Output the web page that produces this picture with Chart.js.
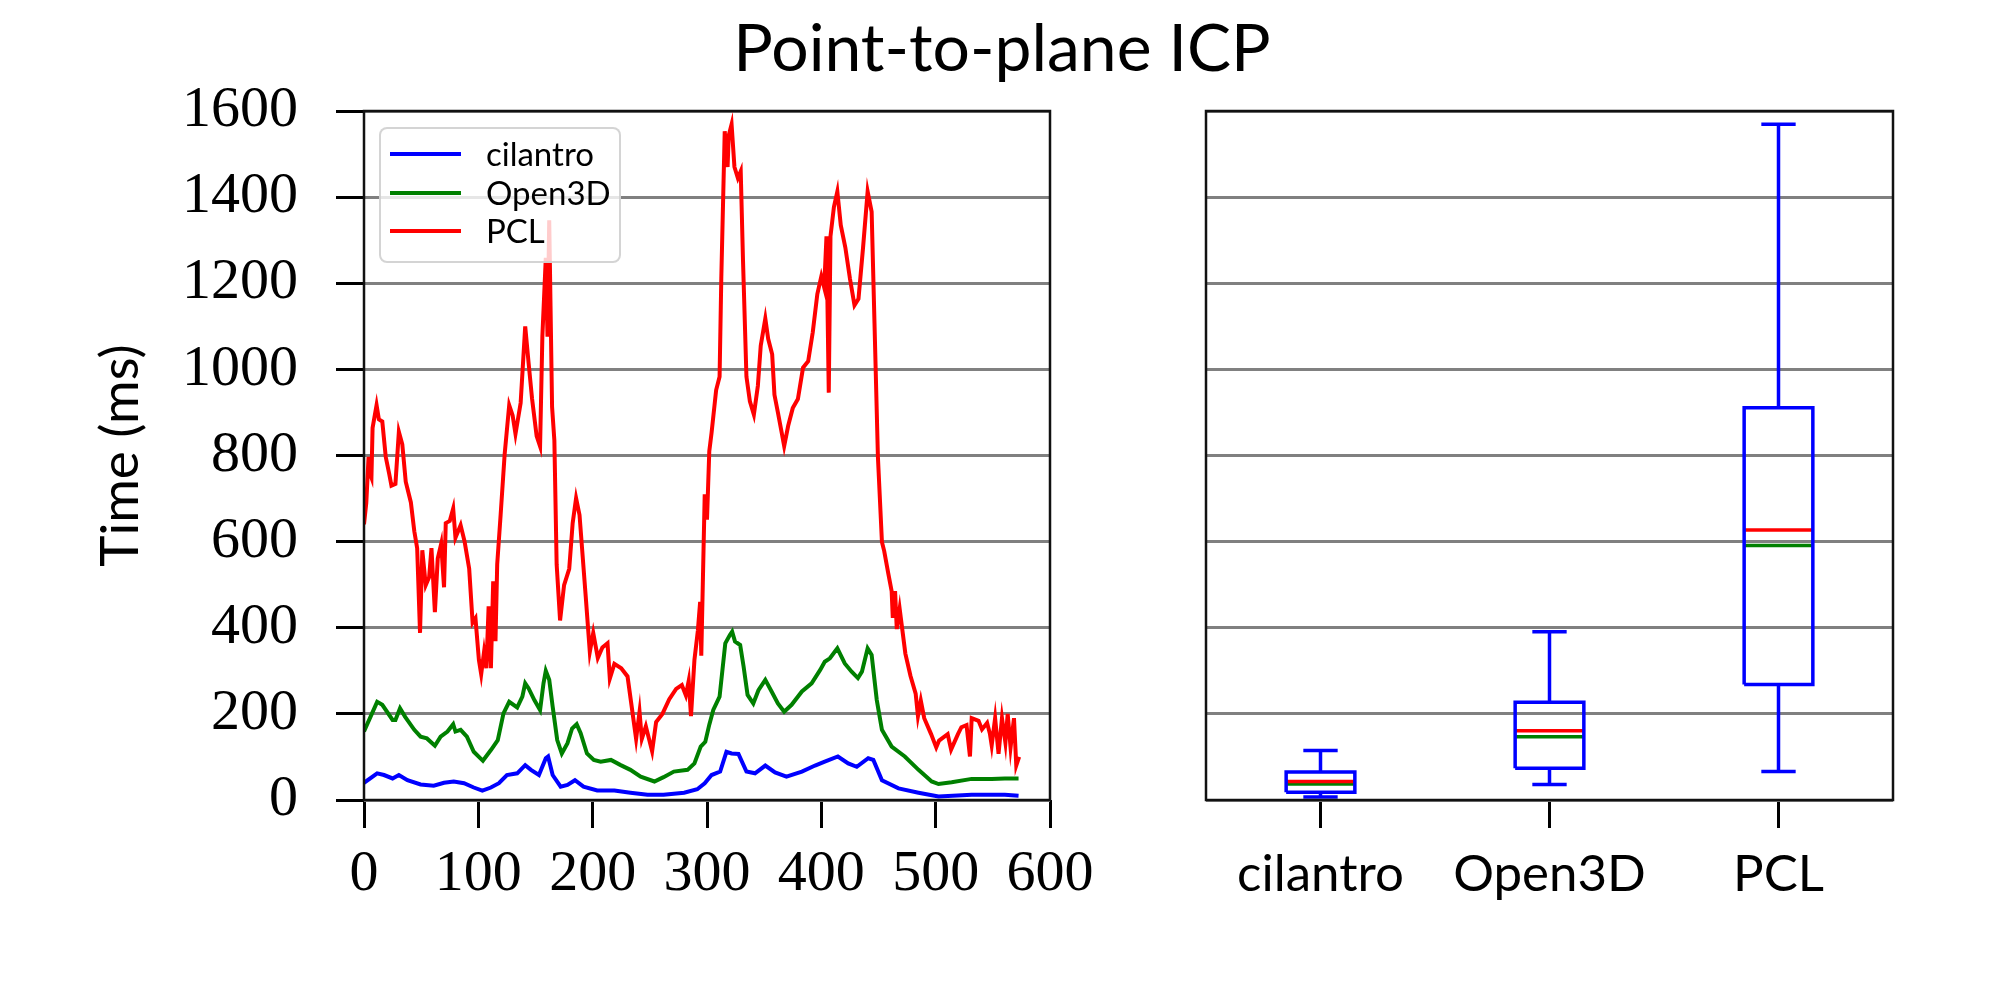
<!DOCTYPE html>
<html><head><meta charset="utf-8">
<script src="https://cdn.jsdelivr.net/npm/chart.js@4.4.1/dist/chart.umd.min.js"></script>
<style>
html,body{margin:0;padding:0;background:#fff;}
#wrap{position:relative;width:2004px;height:1002px;overflow:hidden;background:#fff;}
canvas{position:absolute;left:0;top:0;}
#title{position:absolute;left:0;top:13px;width:2004px;text-align:center;font-family:Lato,sans-serif;font-size:66px;line-height:66px;color:#000;white-space:nowrap;}
#legend{position:absolute;left:379px;top:127px;width:242px;height:136px;box-sizing:border-box;border:2px solid rgba(204,204,204,0.85);border-radius:8px;background:rgba(255,255,255,0.8);}
.sw{position:absolute;left:9px;width:71px;height:4px;}
.lt{position:absolute;left:105px;font-family:Lato,sans-serif;font-size:33px;line-height:33px;color:#000;white-space:nowrap;}
</style></head>
<body>
<div id="wrap">
<canvas id="c1" width="2004" height="1002"></canvas>
<canvas id="c2" width="2004" height="1002"></canvas>
<div id="title">Point-to-plane ICP</div>
<div id="legend"></div>
</div>
<script>
// ---- data ----
const seriesNames = ['cilantro', 'Open3D', 'PCL'];
const seriesColors = ['#0000ff', '#008000', '#ff0000'];

const cilFrame = [0,11.5,17.5,25,30.5,38,49.5,61,70,78.5,87.5,96,103.5,111,118,125,134,141,146,153,159,161,165,172,178,184.5,192,204,219,233,248,262,280,291.5,298,304,311.5,317,321.5,327.5,334.5,342,351,359.5,369.5,383,394.5,403,414.5,423.5,431,441,445.5,453,467.5,485,502.5,531.5,560.5,572.5];
const cilMs = [40,62,58,50,58,46,36,33,40,43,39,29,22,29,39,58,62,81,70,58,97,101,58,31,35,46,31,22,22,17,12,12,17,25,39,58,66,112,108,107,66,62,80,64,54,66,80,89,101,85,77,97,93,46,27,17,8,12,12,10];

const o3dFrame = [0,11.5,16,25,27.5,31.5,36,44,49.5,55,62,67,73,78,80,84.5,90,96,104,111,117,122,127,134,138.5,141,144,149,154,157,159,162,165,169,173,178,182,186,189.5,195,201,207,216,224.5,233,242,254,262,271,283,289,294.5,298.5,302,305.5,311,316,320,322,324.5,329,332,335.5,340.5,345,351,356.5,362,367.5,374,383,391.5,399,403,407.5,414,420.5,426.5,432,435.5,440.5,444,448.5,453,461.5,473,485,496.5,502.5,514,531.5,549,560.5,572.5];
const o3dMs = [159,228,221,186,186,213,193,163,147,143,126,147,159,176,159,163,147,112,91,116,139,201,228,215,240,271,259,232,209,271,300,279,217,139,108,132,166,176,155,108,93,89,93,81,70,54,43,53,66,70,85,124,135,175,209,240,364,383,391,368,360,310,244,224,255,279,252,224,205,221,252,271,302,321,329,352,317,298,283,298,352,337,232,163,124,101,70,43,37,41,49,49,50,50];

const pclFrame = [0,2,4,5,6.5,7.5,11,13,16,19,22,24,27.5,30.5,33.5,36.5,41,44,46.5,49,51,54,57,59,62,64.5,67.5,70,71.5,75,78,80,84.5,88,92,95,97.5,100.5,102.5,105,107,109,111,113,115,116.5,119.5,123,127,130,132.5,137,141,144,147,151,154,156,159,160.5,162,164.5,166.5,168.5,171.5,175,179.5,182.5,185.5,188.5,194,197.5,200.5,204.5,208.5,213,215,219,225,230.5,233.5,238,241,243,246.5,252,255.5,261,267,273,278,281.5,284,286,289,292,294,295,298,300,302,304,308,311,312.5,315.5,318,319,321.5,324,327,329.5,331.5,334.5,337.5,341,344.5,347,351,353.5,357,359,362,365,367.5,371,375,379.5,384,388.5,392.5,396.5,400,402.5,404.5,406.5,408,411,414,417,421,425,429,432.5,436.5,440.5,444,446.5,449.5,453,455,458.5,461.5,462.5,464.5,466,468.5,473.5,478,482.5,484.5,487,490,496,500.5,503,510.5,513.5,519.5,522.5,527,530,531.5,537.5,540.5,545,547.5,549,552,555,558,561,563,565.5,568.5,570.5,573];
const pclMs = [640,690,797,760,749,864,917,884,879,797,758,730,734,855,826,739,691,624,585,388,580,499,518,585,436,561,595,494,643,648,677,609,638,600,537,412,422,325,292,344,306,450,306,508,369,547,662,802,917,893,850,922,1100,1014,932,845,821,1076,1259,1076,1346,913,835,547,417,499,537,643,701,662,470,344,388,330,354,364,282,316,306,287,229,142,205,142,171,113,181,200,234,258,267,243,277,195,325,393,460,335,710,651,810,853,952,983,1211,1553,1470,1543,1569,1470,1444,1460,1252,983,926,895,962,1055,1118,1071,1035,941,900,858,822,869,910,931,1004,1019,1086,1175,1216,1190,1309,946,1309,1377,1413,1335,1283,1211,1149,1164,1283,1413,1366,1107,796,599,578,527,485,423,485,397,444,340,288,247,195,231,190,153,122,138,153,117,153,169,174,101,190,184,164,179,153,127,190,107,190,133,200,122,190,80,100];

// box plot statistics (cilantro, Open3D, PCL)
const boxMin    = [7, 36, 66];
const boxQ1     = [18, 74, 268];
const boxMedian = [43, 161, 627];
const boxMean   = [37, 147, 591];
const boxQ3     = [65, 227, 911];
const boxMax    = [115, 391, 1569];

const xTickValues = [0, 100, 200, 300, 400, 500, 600];
const yTickValues = [0, 200, 400, 600, 800, 1000, 1200, 1400, 1600];

// ---- styles ----
const SERIF = "'Liberation Serif', serif";
const SANS = "Lato, sans-serif";
const LINE_W = 4;
const BOX_W = 3.5;
const BOX_HALF = 0.15, CAP_HALF = 0.075;

const framePlugin = {
  id: 'frame',
  afterDatasetsDraw(chart) {
    const {ctx, chartArea: a} = chart;
    ctx.save();
    ctx.strokeStyle = '#111';
    ctx.lineWidth = 2.5;
    ctx.strokeRect(a.left, a.top, a.right - a.left, a.bottom - a.top);
    ctx.restore();
  }
};

const pts = (xs, ys) => xs.map((x, i) => ({x: x, y: ys[i]}));
const lineDs = (label, data, color, w) => ({
  label, data, showLine: true, borderColor: color, backgroundColor: color,
  borderWidth: w, pointRadius: 0, pointHoverRadius: 0, tension: 0, fill: false
});

const yScaleBase = {
  type: 'linear', min: 0, max: 1600,
  afterBuildTicks: s => { s.ticks = yTickValues.map(v => ({value: v})); },
  grid: {color: '#808080', lineWidth: 3, tickColor: '#000', tickLength: 28, tickWidth: 3},
  border: {display: false}
};

// ---- left chart: time series ----
new Chart(document.getElementById('c1'), {
  type: 'scatter',
  data: {datasets: [
    lineDs(seriesNames[0], pts(cilFrame, cilMs), seriesColors[0], LINE_W),
    lineDs(seriesNames[1], pts(o3dFrame, o3dMs), seriesColors[1], LINE_W),
    lineDs(seriesNames[2], pts(pclFrame, pclMs), seriesColors[2], LINE_W)
  ]},
  options: {
    responsive: false, animation: false, devicePixelRatio: 1,
    layout: {padding: {left: 0, right: 954, top: 111, bottom: 0}},
    plugins: {legend: {display: false}, tooltip: {enabled: false}, title: {display: false}},
    scales: {
      x: {
        type: 'linear', min: 0, max: 600,
        afterBuildTicks: s => { s.ticks = xTickValues.map(v => ({value: v})); },
        afterFit: s => { s.height = 202; },
        grid: {drawOnChartArea: false, drawTicks: true, tickLength: 28, tickWidth: 3, tickColor: '#000'},
        border: {display: false},
        ticks: {font: {family: SERIF, size: 58}, color: '#000', padding: 12, maxRotation: 0, autoSkip: false,
                callback: v => String(v)}
      },
      y: Object.assign({}, yScaleBase, {
        afterFit: s => { s.width = 364; },
        ticks: {font: {family: SERIF, size: 58}, color: '#000', padding: 38, autoSkip: false,
                callback: v => String(v)},
        title: {display: true, text: 'Time (ms)', color: '#000', font: {family: SANS, size: 53}, padding: {top: 89, bottom: 0}}
      })
    }
  },
  plugins: [framePlugin]
});

// ---- right chart: box plots ----
const boxDatasets = [];
const seg = (data, color) => boxDatasets.push(lineDs('', data, color, BOX_W));
seriesNames.forEach((name, i) => {
  const c = i + 1;
  seg([{x: c - BOX_HALF, y: boxQ1[i]}, {x: c + BOX_HALF, y: boxQ1[i]}, {x: c + BOX_HALF, y: boxQ3[i]},
       {x: c - BOX_HALF, y: boxQ3[i]}, {x: c - BOX_HALF, y: boxQ1[i]}], '#0000ff');
  seg([{x: c, y: boxQ1[i]}, {x: c, y: boxMin[i]}], '#0000ff');
  seg([{x: c - CAP_HALF, y: boxMin[i]}, {x: c + CAP_HALF, y: boxMin[i]}], '#0000ff');
  seg([{x: c, y: boxQ3[i]}, {x: c, y: boxMax[i]}], '#0000ff');
  seg([{x: c - CAP_HALF, y: boxMax[i]}, {x: c + CAP_HALF, y: boxMax[i]}], '#0000ff');
});
seriesNames.forEach((name, i) => {
  const c = i + 1;
  seg([{x: c - BOX_HALF, y: boxMedian[i]}, {x: c + BOX_HALF, y: boxMedian[i]}], '#ff0000');
  seg([{x: c - BOX_HALF, y: boxMean[i]}, {x: c + BOX_HALF, y: boxMean[i]}], '#008000');
});

new Chart(document.getElementById('c2'), {
  type: 'scatter',
  data: {datasets: boxDatasets},
  options: {
    responsive: false, animation: false, devicePixelRatio: 1,
    layout: {padding: {left: 1206, right: 111, top: 111, bottom: 0}},
    plugins: {legend: {display: false}, tooltip: {enabled: false}, title: {display: false}},
    scales: {
      x: {
        type: 'linear', min: 0.5, max: 3.5,
        afterBuildTicks: s => { s.ticks = seriesNames.map((n, i) => ({value: i + 1})); },
        afterFit: s => { s.height = 202; },
        grid: {drawOnChartArea: false, drawTicks: true, tickLength: 28, tickWidth: 3, tickColor: '#000'},
        border: {display: false},
        ticks: {font: {family: SANS, size: 51}, color: '#000', padding: 16, maxRotation: 0, autoSkip: false,
                callback: (v, idx) => seriesNames[idx]}
      },
      y: Object.assign({}, yScaleBase, {
        afterFit: s => { s.width = 0; },
        grid: {color: '#808080', lineWidth: 3, drawTicks: false},
        ticks: {display: false}
      })
    }
  },
  plugins: [framePlugin]
});

// ---- legend (HTML, text kept as text) ----
const legend = document.getElementById('legend');
seriesNames.forEach((name, i) => {
  const sw = document.createElement('div');
  sw.className = 'sw';
  sw.style.top = (23 + i * 38.5) + 'px';
  sw.style.background = seriesColors[i];
  legend.appendChild(sw);
  const t = document.createElement('div');
  t.className = 'lt';
  t.style.top = (8 + i * 38.5) + 'px';
  t.textContent = name;
  legend.appendChild(t);
});
</script>
</body></html>
